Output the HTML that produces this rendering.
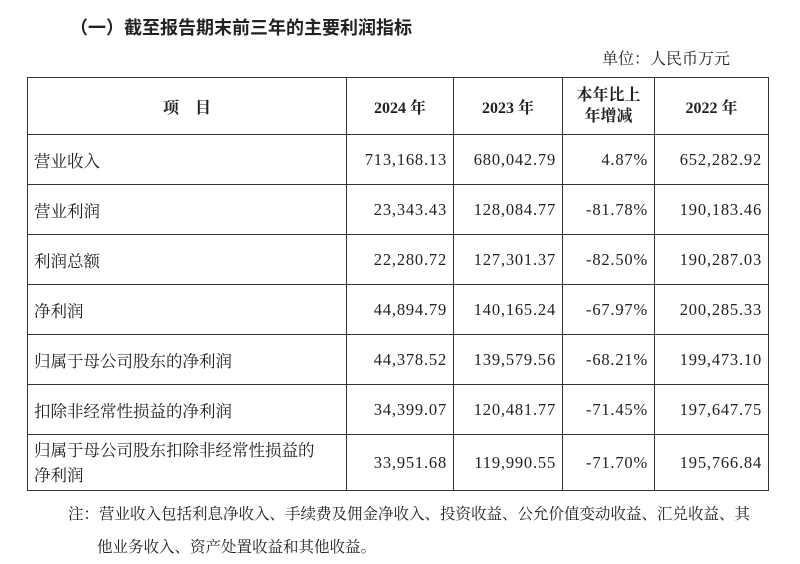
<!DOCTYPE html>
<html><head><meta charset="utf-8"><style>
body{margin:0;width:800px;height:564px;background:#fff;position:relative;font-family:"Liberation Serif","Noto Serif CJK SC",serif;color:#222;overflow:hidden}
.t{position:absolute;white-space:nowrap}
table{position:absolute;left:27px;top:77px;border-collapse:collapse;font-size:16.5px}
td{border:1.5px solid #333;padding:0 6px;height:49px;white-space:nowrap}
td.n{text-align:right;font-family:"Liberation Serif",serif;letter-spacing:0.8px;font-size:16.5px}
th{border:1.5px solid #333;font-weight:bold;height:54px;font-size:16px}
</style></head><body>
<div class="t" style="left:70px;top:14px;font-size:18px;font-weight:bold;font-family:'Noto Sans CJK SC',sans-serif">（一）截至报告期末前三年的主要利润指标</div>
<div class="t" style="left:602px;top:46px;font-size:16px">单位：人民币万元</div>
<table>
<colgroup><col style="width:319px"><col style="width:107px"><col style="width:109px"><col style="width:92px"><col style="width:114px"></colgroup>
<tr><th>项　目</th><th>2024 年</th><th>2023 年</th><th style="line-height:21px">本年比上<br>年增减</th><th>2022 年</th></tr>
<tr><td>营业收入</td><td class="n">713,168.13</td><td class="n">680,042.79</td><td class="n">4.87%</td><td class="n">652,282.92</td></tr>
<tr><td>营业利润</td><td class="n">23,343.43</td><td class="n">128,084.77</td><td class="n">-81.78%</td><td class="n">190,183.46</td></tr>
<tr><td>利润总额</td><td class="n">22,280.72</td><td class="n">127,301.37</td><td class="n">-82.50%</td><td class="n">190,287.03</td></tr>
<tr><td>净利润</td><td class="n">44,894.79</td><td class="n">140,165.24</td><td class="n">-67.97%</td><td class="n">200,285.33</td></tr>
<tr><td>归属于母公司股东的净利润</td><td class="n">44,378.52</td><td class="n">139,579.56</td><td class="n">-68.21%</td><td class="n">199,473.10</td></tr>
<tr><td>扣除非经常性损益的净利润</td><td class="n">34,399.07</td><td class="n">120,481.77</td><td class="n">-71.45%</td><td class="n">197,647.75</td></tr>
<tr><td style="height:55px;line-height:25px">归属于母公司股东扣除非经常性损益的<br>净利润</td><td class="n">33,951.68</td><td class="n">119,990.55</td><td class="n">-71.70%</td><td class="n">195,766.84</td></tr>
</table>
<div class="t" style="left:68px;top:502px;font-size:15.5px">注：营业收入包括利息净收入、手续费及佣金净收入、投资收益、公允价值变动收益、汇兑收益、其</div>
<div class="t" style="left:97px;top:535px;font-size:15.5px">他业务收入、资产处置收益和其他收益。</div>
</body></html>
